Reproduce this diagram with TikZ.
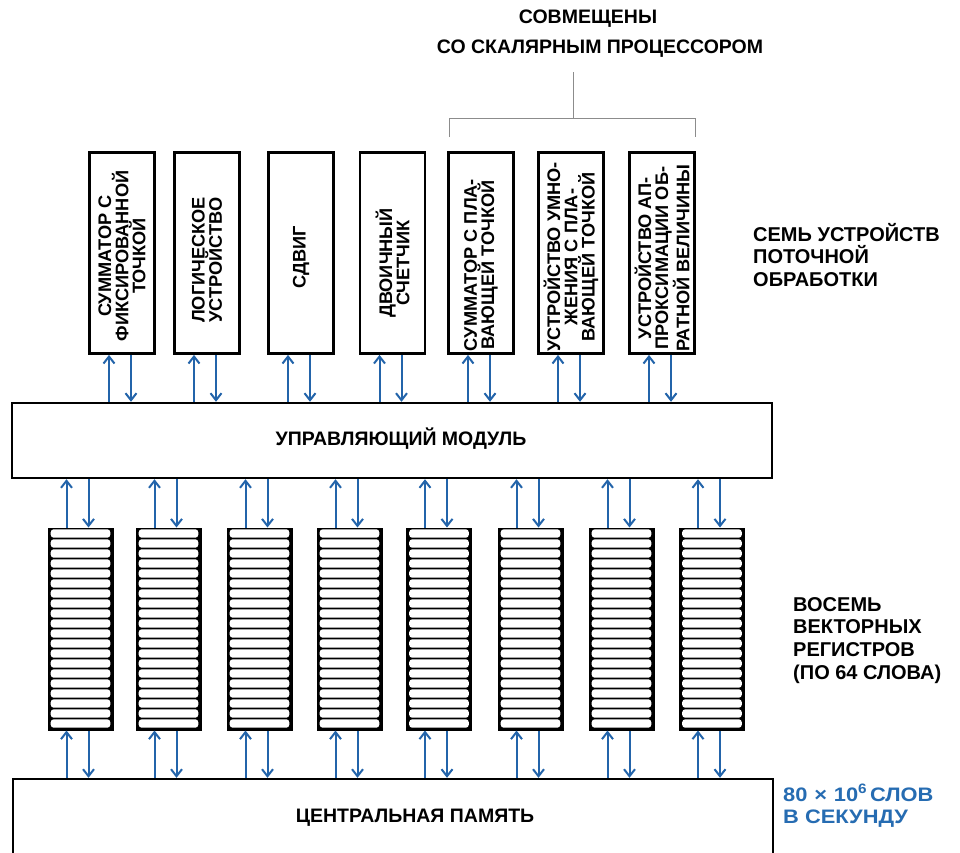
\documentclass[tikz,border=0pt]{standalone}
\usepackage{fontspec}
\setmainfont{Liberation Sans}
\newfontfamily\widefont[FakeStretch=1.12]{Liberation Sans}
\usetikzlibrary{arrows.meta,calc}
\definecolor{arrowblue}{RGB}{35,100,170}
\definecolor{textblue}{RGB}{38,108,178}
\definecolor{brgray}{RGB}{140,140,140}
\begin{document}
\begin{tikzpicture}[x=1pt,y=-1pt,
  unitbox/.style={draw, line width=2.8pt, minimum width=65pt, minimum height=201pt, inner sep=0pt},
  unittext/.style={rotate=90, inner sep=0pt, align=center, font=\bfseries\fontsize{18.2}{17.2}\selectfont},
  bigbox/.style={draw, line width=2.4pt, inner sep=0pt},
  regbox/.style={draw, fill=black, line width=1pt, minimum width=65pt, minimum height=202pt, inner sep=0pt},
  arr/.style={line width=2pt, draw=arrowblue, -{Straight Barb[length=7pt,width=11pt,line width=2pt]}},
  lbl/.style={inner sep=0pt, align=left, anchor=base west, font=\bfseries\fontsize{20}{22.8}\selectfont},
  ctext/.style={inner sep=0pt, anchor=base, font=\bfseries\fontsize{19.5}{22.8}\selectfont},
  bracket/.style={draw=brgray, line width=1pt}
]
\clip (0,0) rectangle (960,852);
\fill[white] (0,0) rectangle (960,852);

% top captions
\node[ctext] (comb1) at (588,23) {СОВМЕЩЕНЫ};
\node[ctext] (comb2) at (600,53) {СО СКАЛЯРНЫМ ПРОЦЕССОРОМ};

% seven units
\node[unitbox] (u1) at (122,253) {};
\node[unitbox] (u2) at (207,253) {};
\node[unitbox] (u3) at (301,253) {};
\node[unitbox] (u4) at (392.5,253) {};
\node[unitbox] (u5) at (481,253) {};
\node[unitbox] (u6) at (571,253) {};
\node[unitbox] (u7) at (662,253) {};
\node[unittext] (u1t) at ([yshift=-3pt]u1.center) {СУММАТОР С\\ФИКСИРОВАННОЙ\\ТОЧКОЙ};
\node[unittext] (u2t) at ([yshift=-7pt]u2.center) {ЛОГИЧЕСКОЕ\\УСТРОЙСТВО};
\node[unittext] (u3t) at ([yshift=-4pt]u3.center) {СДВИГ};
\node[unittext] (u4t) at ([yshift=-10pt]u4.center) {ДВОИЧНЫЙ\\СЧЕТЧИК};
\node[unittext] (u5t) at ([yshift=-12pt]u5.center) {СУММАТОР С ПЛА-\\ВАЮЩЕЙ ТОЧКОЙ};
\node[unittext] (u6t) at ([yshift=-4pt]u6.center) {УСТРОЙСТВО УМНО-\\ЖЕНИЯ С ПЛА-\\ВАЮЩЕЙ ТОЧКОЙ};
\node[unittext] (u7t) at ([yshift=-5pt]u7.center) {УСТРОЙСТВО АП-\\ПРОКСИМАЦИИ ОБ-\\РАТНОЙ ВЕЛИЧИНЫ};

% bracket
\coordinate (bl) at ([xshift=2pt,yshift=14pt]u5.north west);
\coordinate (br) at ([xshift=0pt,yshift=14pt]u7.north east);
\coordinate (bm) at (573,118);
\coordinate (bt) at (573,72);
\draw[bracket] (bl) -- (bl |- bm) -- (br |- bm) -- (br);
\draw[bracket] (bm) -- (bt);

\node[lbl] (sevenl) at (753,286.6) {СЕМЬ УСТРОЙСТВ\\ПОТОЧНОЙ\\ОБРАБОТКИ};

% control module
\node[bigbox, minimum width=760pt, minimum height=75pt] (ctrl) at (392,440.5) {};
\node[ctext] (ctrlt) at (401,445) {УПРАВЛЯЮЩИЙ МОДУЛЬ};

% memory
\node[bigbox, minimum width=760pt, minimum height=102pt] (mem) at (393,830) {};
\node[ctext] (memt) at (415,822) {ЦЕНТРАЛЬНАЯ ПАМЯТЬ};

% registers
\foreach \i/\x in {1/80.5,2/168.5,3/259.5,4/349.5,5/439,6/530.5,7/621.5,8/712}{
  \node[regbox] (r\i) at (\x,629) {};
  \foreach \j in {0,...,19}{
    \pgfmathsetmacro\ya{-(1.8+10*\j)}
    \pgfmathsetmacro\yb{-(10.2+10*\j)}
    \fill[white, rounded corners=3pt] ([xshift=3.2pt,yshift=\ya pt]r\i.north west) rectangle ([xshift=-3.2pt,yshift=\yb pt]r\i.north east);
  }
}

\node[lbl] (regl) at (793,679.4) {ВОСЕМЬ\\ВЕКТОРНЫХ\\РЕГИСТРОВ\\(ПО 64 СЛОВА)};
\node[lbl, text=textblue, font=\widefont\bfseries\fontsize{19.5}{22}\selectfont] (rate) at (783,823) {80\hspace{0.35em}×\hspace{0.35em}10\textsuperscript{6}\hspace{0.15em}СЛОВ\\В СЕКУНДУ};

% arrows units <-> control
\foreach \i in {1,...,7}{
  \coordinate (ua\i) at ([xshift=-13pt]u\i.south);
  \coordinate (da\i) at ([xshift=9pt]u\i.south);
  \draw[arr] (ua\i |- ctrl.north) -- (ua\i);
  \draw[arr] (da\i) -- (da\i |- ctrl.north);
}
% arrows control <-> registers and registers <-> memory
\foreach \i in {1,...,8}{
  \coordinate (ra\i) at ([xshift=-14pt]r\i.north);
  \coordinate (rd\i) at ([xshift=8pt]r\i.north);
  \draw[arr] (ra\i) -- (ra\i |- ctrl.south);
  \draw[arr] (rd\i |- ctrl.south) -- (rd\i);
  \coordinate (ma\i) at ([xshift=-14pt]r\i.south);
  \coordinate (md\i) at ([xshift=8pt]r\i.south);
  \draw[arr] (ma\i |- mem.north) -- (ma\i);
  \draw[arr] (md\i) -- (md\i |- mem.north);
}
\end{tikzpicture}
\end{document}
